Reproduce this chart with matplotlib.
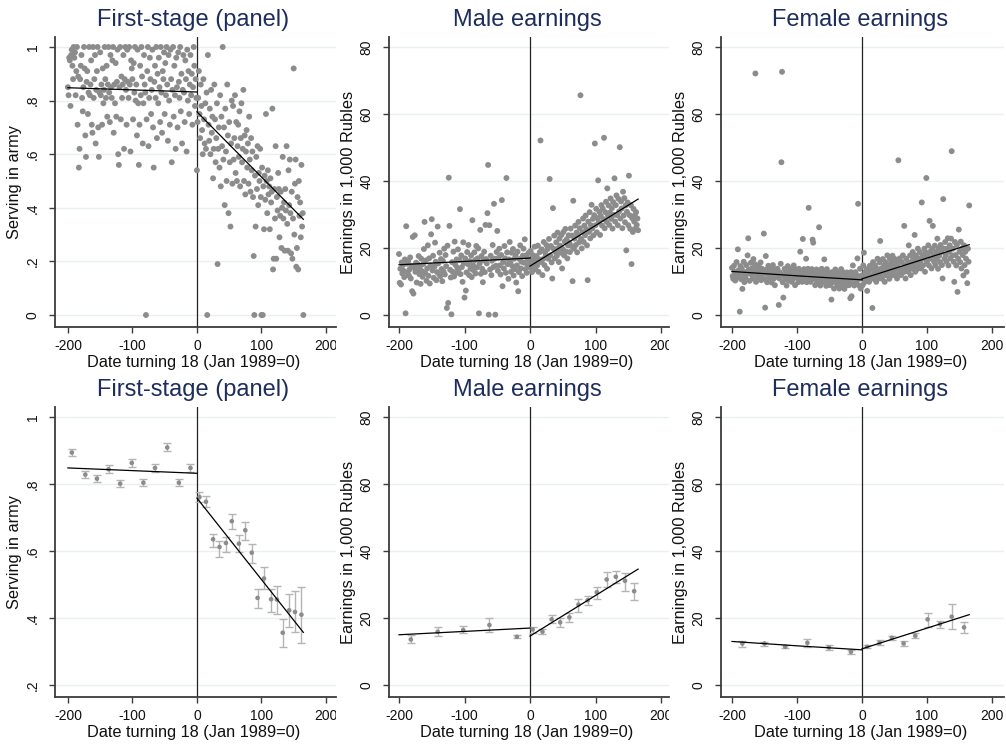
import numpy as np
import matplotlib
matplotlib.use('Agg')
import matplotlib.pyplot as plt
from matplotlib.transforms import Bbox, TransformedBbox

plt.rcParams['font.family'] = ['Liberation Sans', 'DejaVu Sans']

# ---------------- DATA ----------------
days_left = list(range(-200, 0))
days_right = list(range(0, 166))

# First stage (share serving in army), in percent, one value per date
fs_left_pct = [
    85, 82, 96, 95, 78, 97, 99, 93, 88, 100,
    96, 98, 82, 91, 100, 71, 89, 55, 62, 88,
    93, 97, 81, 76, 85, 100, 92, 67, 59, 87,
    91, 75, 83, 100, 82, 86, 95, 71, 68, 100,
    81, 88, 97, 64, 84, 91, 100, 70, 59, 83,
    98, 82, 86, 71, 92, 79, 84, 100, 88, 81,
    93, 74, 86, 100, 83, 72, 97, 85, 81, 95,
    100, 68, 86, 79, 94, 74, 87, 99, 60, 56,
    85, 100, 73, 89, 81, 86, 97, 62, 88, 100,
    84, 71, 99, 87, 81, 100, 86, 61, 95, 92,
    88, 73, 94, 83, 100, 80, 86, 67, 99, 79,
    56, 71, 93, 82, 100, 89, 64, 79, 97, 86,
    83, 0, 73, 91, 100, 63, 81, 96, 88, 75,
    84, 99, 70, 55, 87, 93, 81, 100, 66, 90,
    79, 96, 85, 72, 100, 83, 68, 91, 88, 98,
    75, 94, 82, 100, 86, 65, 97, 80, 71, 99,
    88, 57, 84, 100, 74, 93, 82, 62, 96, 85,
    70, 98, 87, 81, 100, 76, 90, 64, 84, 97,
    83, 72, 95, 88, 61, 99, 80, 91, 75, 86,
    97, 82, 90, 71, 85, 100, 93, 78, 88, 81,
]
fs_right_pct = [
    54, 72, 81, 91, 75, 66, 86, 78, 69, 60,
    88, 73, 64, 79, 62, 83, 0, 97, 71, 65,
    77, 60, 84, 68, 74, 51, 62, 86, 73, 57,
    66, 79, 19, 62, 70, 55, 82, 48, 74, 63,
    100, 58, 70, 41, 77, 61, 50, 86, 67, 38,
    72, 57, 33, 64, 80, 49, 78, 58, 66, 82,
    53, 72, 50, 63, 71, 59, 76, 48, 66, 79,
    57, 62, 84, 50, 67, 45, 61, 69, 55, 64,
    49, 74, 58, 46, 66, 54, 61, 44, 22, 0,
    52, 33, 59, 47, 63, 41, 53, 50, 62, 44,
    0, 55, 0, 48, 32, 52, 43, 75, 50, 38,
    54, 45, 48, 32, 51, 42, 46, 77, 17, 21,
    47, 36, 63, 21, 44, 39, 53, 47, 29, 37,
    46, 25, 40, 59, 36, 42, 24, 47, 39, 63,
    34, 24, 54, 41, 58, 38, 23, 46, 21, 36,
    92, 30, 49, 58, 18, 25, 44, 17, 50, 37,
    42, 29, 56, 33, 38, 0,
]

# Male earnings (1,000 Rubles)
male_left = [
    18.2, 9.6, 13.8, 9.1, 15.7, 12.4, 14.9, 13.2, 11.3, 16.6,
    0.5, 26.5, 15.3, 12.7, 16.1, 11.8, 13.6, 17.2, 10.9, 14.7,
    7.1, 23.3, 6.4, 14.2, 23.8, 12.9, 15.6, 9.7, 13.4, 15.1,
    17.6, 12.2, 14.5, 9.3, 16.8, 13.1, 11.4, 15.2, 19.7, 27.8,
    12.6, 16.3, 10.2, 13.9, 20.8, 11.7, 16.9, 9.4, 14.8, 24.1,
    28.6, 13.3, 17.7, 11.1, 14.4, 21.6, 15.9, 10.4, 12.8, 26.4,
    15.4, 12.3, 18.6, 11.6, 16.7, 13.7, 10.1, 16.2, 13.0, 19.8,
    12.1, 17.9, 14.6, 2.1, 20.7, 3.6, 41.0, 26.6, 13.5, 11.2,
    0.2, 15.8, 12.9, 18.9, 11.5, 21.9, 15.0, 12.5, 16.6, 14.1,
    19.6, 13.6, 16.4, 31.6, 12.2, 17.8, 14.3, 9.9, 21.7, 15.5,
    5.2, 16.9, 7.3, 12.7, 18.8, 15.2, 20.9, 11.9, 16.1, 13.8,
    17.8, 11.3, 28.3, 14.9, 13.3, 18.7, 16.4, 12.4, 20.6, 14.2,
    16.9, 19.9, 0.5, 15.3, 25.4, 12.3, 17.6, 13.8, 9.8, 16.3,
    18.9, 12.8, 26.9, 16.7, 15.4, 30.4, 44.8, 0.1, 26.8, 13.6,
    17.7, 11.9, 16.2, 20.9, 14.3, 33.2, 16.8, 0.1, 14.7, 18.8,
    25.1, 13.2, 17.1, 19.8, 14.8, 12.1, 17.9, 34.3, 8.6, 15.8,
    13.9, 20.6, 16.9, 12.6, 40.9, 18.7, 15.2, 10.8, 16.6, 21.8,
    15.7, 12.9, 18.6, 14.6, 19.7, 11.8, 16.8, 13.7, 17.9, 9.7,
    14.8, 18.9, 7.1, 12.8, 16.7, 20.8, 13.9, 15.9, 11.6, 17.7,
    19.8, 15.6, 22.6, 13.7, 17.8, 12.6, 16.9, 14.7, 18.6, 16.2,
]
male_right = [
    14.2, 19.1, 15.7, 12.8, 17.9, 14.6, 16.8, 20.4, 13.7, 15.9,
    17.6, 14.8, 20.7, 12.9, 16.6, 18.8, 52.1, 15.8, 19.6, 11.9,
    16.7, 21.8, 14.9, 18.7, 17.6, 20.9, 13.8, 19.7, 16.8, 22.7,
    40.6, 17.8, 20.6, 15.7, 10.9, 31.9, 19.8, 23.7, 16.9, 18.8,
    21.7, 17.7, 24.6, 19.9, 15.8, 22.8, 20.7, 18.6, 23.9, 13.9,
    19.7, 24.8, 17.8, 21.9, 25.7, 18.9, 22.6, 16.9, 20.8, 23.8,
    21.6, 18.8, 25.8, 20.6, 23.7, 10.1, 34.1, 19.8, 22.8, 26.7,
    20.9, 24.6, 18.7, 23.9, 27.8, 21.7, 25.9, 65.6, 22.7, 19.9,
    24.7, 28.8, 21.8, 26.7, 23.8, 29.7, 25.6, 20.8, 10.4, 27.9,
    24.8, 30.7, 22.9, 26.8, 32.9, 25.8, 28.7, 23.8, 29.8, 51.2,
    26.8, 31.7, 24.7, 28.9, 40.2, 27.7, 30.8, 23.9, 29.6, 32.8,
    26.7, 31.8, 28.6, 52.9, 25.9, 30.7, 33.8, 27.8, 37.8, 29.7,
    32.7, 26.9, 30.6, 34.8, 28.7, 31.9, 25.8, 33.7, 29.9, 40.8,
    27.9, 32.8, 35.7, 29.8, 26.8, 34.7, 30.9, 50.1, 28.8, 33.9,
    31.8, 25.9, 36.8, 29.7, 34.9, 27.7, 32.7, 19.3, 30.8, 33.6,
    26.8, 41.6, 29.8, 25.7, 32.8, 15.2, 28.9, 24.8, 31.7, 27.9,
    29.8, 25.8, 30.7, 26.9, 28.8, 25.3,
]

# Female earnings (1,000 Rubles)
female_left = [
    14.1, 11.6, 10.8, 14.7, 12.9, 10.3, 12.4, 15.8, 11.2, 19.6,
    13.3, 11.9, 1.0, 14.6, 10.7, 13.8, 7.8, 12.2, 15.9, 9.8,
    12.8, 11.1, 14.9, 12.3, 17.8, 22.9, 13.6, 10.2, 12.7, 15.6,
    12.1, 13.9, 10.9, 16.7, 12.6, 15.2, 72.1, 9.9, 13.7, 11.8,
    11.3, 14.8, 12.9, 11.7, 15.7, 10.4, 13.8, 12.3, 12.8, 24.3,
    10.8, 2.2, 17.6, 13.6, 9.8, 12.2, 14.7, 12.7, 11.1, 13.9,
    12.3, 9.7, 12.8, 14.9, 10.8, 13.7, 8.9, 11.8, 13.2, 11.4,
    13.8, 12.2, 3.0, 10.9, 12.7, 15.3, 45.6, 72.6, 9.8, 5.2,
    11.8, 13.8, 10.7, 12.9, 8.8, 11.9, 14.6, 10.3, 12.7, 11.2,
    13.7, 11.8, 9.9, 12.8, 10.8, 14.8, 11.7, 8.9, 13.6, 11.3,
    12.9, 11.7, 9.8, 13.8, 10.7, 18.9, 11.8, 12.8, 9.9, 22.7,
    11.9, 13.7, 10.8, 12.7, 16.8, 9.8, 11.9, 13.8, 32.0, 10.9,
    12.8, 9.9, 11.8, 13.7, 22.5, 21.6, 10.8, 12.7, 8.9, 11.7,
    13.6, 9.7, 11.8, 10.8, 26.2, 12.8, 8.8, 11.7, 13.8, 9.9,
    10.8, 12.7, 16.6, 9.8, 11.9, 8.7, 13.7, 10.9, 12.6, 9.7,
    11.8, 8.9, 10.7, 4.6, 12.8, 9.8, 11.7, 7.9, 10.8, 13.6,
    9.8, 11.9, 8.8, 12.7, 10.8, 7.9, 11.8, 9.9, 13.7, 8.9,
    10.8, 12.8, 9.7, 7.8, 11.9, 8.8, 10.9, 12.7, 9.8, 11.8,
    8.9, 10.8, 5.0, 12.8, 5.6, 9.9, 14.8, 11.7, 8.8, 10.9,
    12.8, 9.8, 11.9, 16.9, 33.2, 8.9, 10.8, 13.8, 7.9, 11.7,
]
female_right = [
    11.8, 8.9, 14.8, 18.6, 9.8, 12.8, 10.9, 13.7, 7.2, 11.9,
    12.8, 9.9, 14.7, 10.9, 13.8, 11.8, 2.1, 15.8, 10.8, 12.9,
    14.8, 11.9, 9.9, 13.8, 16.8, 10.9, 12.8, 15.7, 22.1, 11.8,
    13.9, 10.8, 16.7, 12.9, 14.8, 9.9, 15.8, 11.9, 13.8, 17.8,
    12.8, 14.9, 10.8, 16.8, 13.7, 15.9, 11.8, 17.7, 12.9, 14.8,
    16.8, 11.9, 13.8, 15.8, 10.9, 14.7, 46.2, 12.8, 16.9, 13.7,
    11.9, 15.8, 13.9, 17.8, 12.8, 26.6, 14.8, 10.9, 16.8, 13.8,
    15.8, 12.9, 20.8, 14.9, 17.8, 11.9, 15.9, 13.8, 18.8, 16.7,
    14.8, 23.9, 12.9, 17.8, 15.9, 13.7, 19.8, 16.8, 14.9, 18.8,
    15.8, 13.9, 33.6, 17.8, 14.8, 16.9, 19.8, 12.9, 18.7, 40.9,
    15.9, 17.8, 20.8, 14.8, 28.1, 18.9, 16.8, 13.9, 19.8, 26.6,
    17.8, 15.9, 20.7, 14.9, 18.8, 16.9, 22.8, 13.8, 19.9, 17.7,
    15.8, 20.9, 18.8, 14.9, 10.9, 34.6, 19.8, 16.8, 21.8, 17.9,
    15.9, 19.8, 22.9, 14.8, 18.9, 20.8, 16.9, 22.8, 48.9, 17.8,
    19.8, 15.9, 9.9, 21.8, 17.9, 14.8, 20.9, 6.9, 16.8, 25.5,
    18.9, 15.8, 21.9, 13.9, 19.8, 17.9, 11.8, 20.8, 14.9, 18.9,
    16.8, 12.9, 9.5, 19.8, 15.9, 32.7,
]

# Fitted lines (endpoints)
fs_fit = {'lx': [-200, 0], 'ly': [0.848, 0.832], 'rx': [0, 165], 'ry': [0.758, 0.357]}
male_fit = {'lx': [-200, 0], 'ly': [15.0, 17.0], 'rx': [0, 165], 'ry': [14.6, 34.6]}
female_fit = {'lx': [-200, -100, 0], 'ly': [13.0, 11.7, 10.5], 'rx': [0, 165], 'ry': [10.8, 21.0]}

# Binned means with confidence intervals
fs_bin_x = [-194, -173, -155, -137, -119, -101, -83, -65, -46, -28, -10,
            4, 14, 25, 35, 45, 54, 65, 75, 85, 94, 104, 115, 124, 133, 143, 152, 162]
fs_bin_y = [0.894, 0.828, 0.816, 0.844, 0.801, 0.863, 0.804, 0.848, 0.909, 0.804, 0.848,
            0.761, 0.747, 0.635, 0.612, 0.624, 0.689, 0.622, 0.662, 0.595, 0.460, 0.518,
            0.456, 0.455, 0.356, 0.423, 0.418, 0.410]
fs_bin_lo = [0.884, 0.817, 0.805, 0.832, 0.790, 0.852, 0.793, 0.837, 0.898, 0.793, 0.837,
             0.747, 0.732, 0.612, 0.583, 0.597, 0.667, 0.597, 0.632, 0.563, 0.431, 0.488,
             0.418, 0.412, 0.314, 0.372, 0.359, 0.324]
fs_bin_hi = [0.905, 0.840, 0.828, 0.856, 0.812, 0.875, 0.816, 0.860, 0.921, 0.816, 0.860,
             0.776, 0.763, 0.652, 0.630, 0.642, 0.709, 0.647, 0.687, 0.622, 0.488, 0.551,
             0.488, 0.495, 0.396, 0.471, 0.481, 0.493]

male_bin_x = [-182, -141, -102, -62, -20, 4, 19, 33, 46, 60, 74, 88, 102, 117, 131, 145, 159]
male_bin_y = [13.6, 15.9, 16.4, 17.9, 14.4, 16.6, 15.9, 19.6, 18.7, 20.2, 24.0, 25.3, 27.7,
              31.5, 32.3, 31.1, 28.0]
male_bin_lo = [12.4, 14.7, 15.4, 15.9, 13.9, 15.6, 15.1, 18.4, 17.4, 18.9, 21.9, 24.0, 25.8,
               29.3, 30.6, 28.1, 25.3]
male_bin_hi = [14.9, 17.2, 17.6, 19.9, 14.9, 17.4, 16.6, 20.9, 19.9, 21.4, 25.8, 26.5, 29.3,
               33.8, 34.0, 33.3, 30.6]

female_bin_x = [-184, -150, -118, -84, -51, -17, 8, 27, 46, 64, 82, 101, 120, 138, 157]
female_bin_y = [12.4, 12.4, 11.4, 12.6, 11.2, 9.9, 11.4, 12.6, 14.1, 12.4, 14.7, 19.6, 18.2,
                20.4, 17.2]
female_bin_lo = [11.4, 11.7, 10.9, 11.4, 10.4, 9.4, 10.9, 11.9, 13.4, 11.7, 13.9, 17.4, 16.9,
                 16.6, 15.4]
female_bin_hi = [13.2, 12.9, 11.9, 13.6, 11.9, 10.4, 11.9, 13.4, 14.7, 13.1, 15.6, 21.6, 19.2,
                 24.3, 18.7]

titles = ['First-stage (panel)', 'Male earnings', 'Female earnings']
ylabels = ['Serving in army', 'Earnings in 1,000 Rubles', 'Earnings in 1,000 Rubles']
xlabel = 'Date turning 18 (Jan 1989=0)'
xticks = [-200, -100, 0, 100, 200]
xtick_labels = ['-200', '-100', '0', '100', '200']
fs_top_ticks = [0, 0.2, 0.4, 0.6, 0.8, 1.0]
fs_top_labels = ['0', '.2', '.4', '.6', '.8', '1']
fs_bot_ticks = [0.2, 0.4, 0.6, 0.8, 1.0]
fs_bot_labels = ['.2', '.4', '.6', '.8', '1']
earn_ticks = [0, 20, 40, 60, 80]
earn_labels = ['0', '20', '40', '60', '80']

# ---------------- STYLE / LAYOUT ----------------
W, H = 1006, 744
fig = plt.figure(figsize=(W / 100, H / 100), dpi=100)
fig.patch.set_facecolor('white')

TITLE_C = '#1d2d5c'
AXIS_C = '#3c3c3c'
GRID_C = '#e8f0f2'
MARK_C = '#8c8c8c'
ERR_C = '#b4b4b4'

col_spine = [55, 389, 721]
col_right = [336, 669, 1004]
col_xlim = [(-220.0, 215.6), (-215.3, 212.2), (-216.9, 218.5)]
col_clip = [(0, 336), (336, 669), (669, 1006)]
row_top = [37, 407]
row_bot = [327, 697]
row_clip = [(0, 372), (372, 744)]
title_y = [20, 390]
xlabel_y = [362, 732]

fs_top_ylim = (-0.0448, 1.0373)
fs_bot_ylim = (0.1642, 1.0299)
earn_ylim = (-3.58, 82.99)


def make_ax(r, c):
    left, right = col_spine[c], col_right[c]
    top, bot = row_top[r], row_bot[r]
    ax = fig.add_axes([left / W, 1 - bot / H, (right - left) / W, (bot - top) / H])
    ax.set_facecolor('white')
    for s in ['top', 'right']:
        ax.spines[s].set_visible(False)
    for s in ['left', 'bottom']:
        ax.spines[s].set_color(AXIS_C)
        ax.spines[s].set_linewidth(1.3)
    ax.set_xlim(*col_xlim[c])
    ax.set_xticks(xticks, xtick_labels)
    ax.tick_params(axis='both', length=4, width=1.0, color=AXIS_C,
                   labelsize=10, labelcolor='#111111')
    ax.tick_params(axis='x', pad=5)
    ax.tick_params(axis='y', pad=7)
    ax.axvline(0, color='#222222', lw=0.9, zorder=2)
    # texts
    cx = (left + right) / 2 - 2
    fig.text(cx / W, 1 - title_y[r] / H, titles[c], ha='center', va='center',
             fontsize=17, color=TITLE_C)
    fig.text(cx / W, 1 - xlabel_y[r] / H, xlabel, ha='center', va='center',
             fontsize=11.8, color='#111111')
    fig.text((left - 40) / W, 1 - ((top + bot) / 2) / H, ylabels[c], ha='center',
             va='center', rotation=90, fontsize=11.8, color='#111111')
    return ax


def finish_y(ax, ticks, labels, ylim, r, c):
    ax.set_ylim(*ylim)
    ax.set_yticks(ticks, labels, rotation=90, va='center')
    for t in ticks:
        ax.axhline(t, color=GRID_C, lw=1.0, zorder=0)
    x0, x1 = col_clip[c]
    y0, y1 = row_clip[r]
    bb = TransformedBbox(Bbox.from_extents(x0 / W, 1 - y1 / H, x1 / W, 1 - y0 / H),
                         fig.transFigure)
    for lbl in ax.get_xticklabels() + ax.get_yticklabels():
        lbl.set_clip_box(bb)
        lbl.set_clip_on(True)


def draw_fit(ax, fit):
    ax.plot(fit['lx'], fit['ly'], color='black', lw=0.9, zorder=4)
    ax.plot(fit['rx'], fit['ry'], color='black', lw=0.9, zorder=4)


# Top row: scatter of date means
top_series = [
    ([v / 100 for v in fs_left_pct], [v / 100 for v in fs_right_pct], fs_fit, fs_top_ticks, fs_top_labels, fs_top_ylim),
    (male_left, male_right, male_fit, earn_ticks, earn_labels, earn_ylim),
    (female_left, female_right, female_fit, earn_ticks, earn_labels, earn_ylim),
]
for c, (yl, yr, fit, tks, tls, ylim) in enumerate(top_series):
    ax = make_ax(0, c)
    ax.scatter(days_left + days_right, list(yl) + list(yr), s=18, color=MARK_C,
               edgecolors='none', zorder=3)
    draw_fit(ax, fit)
    finish_y(ax, tks, tls, ylim, 0, c)

# Bottom row: binned means with CIs
bot_series = [
    (fs_bin_x, fs_bin_y, fs_bin_lo, fs_bin_hi, fs_fit, fs_bot_ticks, fs_bot_labels, fs_bot_ylim),
    (male_bin_x, male_bin_y, male_bin_lo, male_bin_hi, male_fit, earn_ticks, earn_labels, earn_ylim),
    (female_bin_x, female_bin_y, female_bin_lo, female_bin_hi, female_fit, earn_ticks, earn_labels, earn_ylim),
]
for c, (bx, by, blo, bhi, fit, tks, tls, ylim) in enumerate(bot_series):
    ax = make_ax(1, c)
    by_a = np.array(by)
    yerr = np.vstack([by_a - np.array(blo), np.array(bhi) - by_a])
    ax.errorbar(bx, by, yerr=yerr, fmt='none', ecolor=ERR_C, elinewidth=1.0,
                capsize=3, capthick=1.0, zorder=3)
    ax.scatter(bx, by, s=11, color=MARK_C, edgecolors='none', zorder=3.5)
    draw_fit(ax, fit)
    finish_y(ax, tks, tls, ylim, 1, c)

fig.savefig('out.png', dpi=100, facecolor='white')
